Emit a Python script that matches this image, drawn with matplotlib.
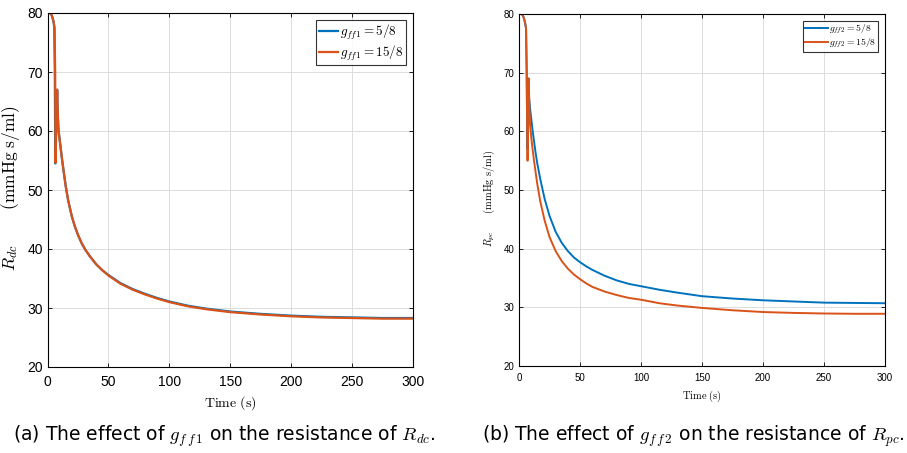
import matplotlib
matplotlib.use("Agg")
import matplotlib.pyplot as plt

plt.rcParams['mathtext.fontset'] = 'cm'
plt.rcParams['font.family'] = ['Liberation Sans', 'DejaVu Sans']

BLUE = '#0072BD'
ORANGE = '#D95319'

# ---- data ----
t_a_blue = [0, 2, 3, 4, 5, 5.6, 6.0, 6.4, 6.4, 7.9, 8.5, 9, 10, 11, 12, 13.5, 15, 17, 20, 22.5, 25, 28, 31, 35, 40, 45, 50, 55, 60, 70, 80, 90, 100, 115, 130, 150, 175, 200, 225, 250, 275, 300]
v_a_blue = [80, 80, 79.8, 79.3, 78.5, 77.5, 70, 54.5, 54.5, 67, 62.5, 60.2, 58.5, 56.8, 55.1, 52.8, 50.6, 48.2, 45.5, 43.8, 42.4, 41.0, 39.9, 38.7, 37.4, 36.4, 35.6, 34.9, 34.2, 33.2, 32.4, 31.7, 31.1, 30.4, 29.9, 29.4, 29.0, 28.7, 28.5, 28.4, 28.3, 28.3]
t_a_orange = [0, 2, 3, 4, 5, 5.8, 6.3, 6.6, 6.6, 7.9, 8.5, 9, 10, 11, 12, 13.5, 15, 17, 20, 22.5, 25, 28, 31, 35, 40, 45, 50, 55, 60, 70, 80, 90, 100, 115, 130, 150, 175, 200, 225, 250, 275, 300]
v_a_orange = [80, 80, 79.8, 79.3, 78.5, 77.5, 70, 54.6, 54.6, 67, 62.5, 60.2, 58.5, 56.8, 55.1, 52.8, 50.6, 48.2, 45.5, 43.8, 42.4, 41.0, 39.9, 38.7, 37.4, 36.4, 35.5, 34.8, 34.1, 33.1, 32.3, 31.6, 31.0, 30.3, 29.8, 29.3, 28.9, 28.6, 28.4, 28.3, 28.2, 28.2]

t_b_blue = [0, 2, 3, 4, 5, 5.8, 6.3, 6.8, 7.0, 7.6, 8.2, 9, 10, 11, 12, 13.5, 15, 17.5, 21, 25, 30, 35, 40, 45, 50, 55, 60, 70, 80, 90, 100, 115, 130, 150, 175, 200, 225, 250, 275, 300]
v_b_blue = [80, 80, 79.8, 79.3, 78.5, 77.5, 70, 57, 57, 69, 66, 64, 62.2, 60.4, 58.8, 56.5, 54.5, 51.8, 48.5, 45.6, 42.9, 41.0, 39.6, 38.5, 37.7, 37.0, 36.4, 35.4, 34.6, 34.0, 33.6, 33.0, 32.5, 31.9, 31.5, 31.2, 31.0, 30.8, 30.75, 30.7]
t_b_orange = [0, 2, 3, 4, 5, 5.8, 6.3, 6.9, 7.1, 8.0, 8.5, 9, 10, 11, 12, 13.5, 15, 17.5, 21, 25, 30, 35, 40, 45, 50, 55, 60, 70, 80, 90, 100, 115, 130, 150, 175, 200, 225, 250, 275, 300]
v_b_orange = [80, 80, 79.8, 79.3, 78.5, 77.5, 70, 55, 55, 69, 64, 61.5, 59, 57.2, 55.5, 53.2, 51.0, 48.0, 44.8, 42.0, 39.6, 37.9, 36.6, 35.6, 34.8, 34.1, 33.5, 32.7, 32.1, 31.6, 31.3, 30.7, 30.3, 29.9, 29.5, 29.2, 29.05, 28.95, 28.9, 28.9]

xticks = [0, 50, 100, 150, 200, 250, 300]
yticks = [20, 30, 40, 50, 60, 70, 80]

fig = plt.figure(figsize=(9.07, 4.53), dpi=100)
W, H = 907, 453

def make_ax(x0, x1, ytop, ybot):
    return fig.add_axes([x0 / W, 1 - ybot / H, (x1 - x0) / W, (ybot - ytop) / H])

ax1 = make_ax(47.5, 413, 13, 367)
ax2 = make_ax(519, 885, 14, 366)

def style(ax, fs, pad):
    ax.set_xlim(0, 300)
    ax.set_ylim(20, 80)
    ax.set_xticks(xticks)
    ax.set_yticks(yticks)
    ax.grid(True, color='#dcdcdc', linewidth=0.7)
    ax.set_axisbelow(True)
    ax.tick_params(direction='in', labelsize=fs, length=3, width=0.6, top=True, right=True)
    ax.tick_params(axis='x', pad=pad)
    for s in ax.spines.values():
        s.set_linewidth(0.8)

ax1.plot(t_a_blue, v_a_blue, color=BLUE, lw=1.6, label=r'$g_{ff1} = 5/8$')
ax1.plot(t_a_orange, v_a_orange, color=ORANGE, lw=1.6, label=r'$g_{ff1} = 15/8$')
style(ax1, 10, 5.5)
ax1.set_xlabel(r'$\mathrm{Time\ (s)}$', fontsize=10, labelpad=4)
ax1.set_ylabel(r'$R_{dc}\qquad\ (\mathrm{mmHg\ s/ml})$', fontsize=12.5)
ax1.yaxis.set_label_coords(-0.07, 0.505)
leg1 = ax1.legend(loc='upper right', fontsize=9.5, frameon=True, fancybox=False, edgecolor='black',
                  handlelength=1.5, handletextpad=0.1, borderpad=0.2, borderaxespad=0.55, labelspacing=0.1)
leg1.get_frame().set_linewidth(0.8)

ax2.plot(t_b_blue, v_b_blue, color=BLUE, lw=1.4, label=r'$g_{ff2} = 5/8$')
ax2.plot(t_b_orange, v_b_orange, color=ORANGE, lw=1.4, label=r'$g_{ff2} = 15/8$')
style(ax2, 7, 5)
ax2.set_xlabel(r'$\mathrm{Time\ (s)}$', fontsize=7.5, labelpad=4)
ax2.set_ylabel(r'$R_{pc}\qquad(\mathrm{mmHg\ s/ml})$', fontsize=7.5)
ax2.yaxis.set_label_coords(-0.06, 0.476)
leg2 = ax2.legend(loc='upper right', fontsize=7, frameon=True, fancybox=False, edgecolor='black',
                  handlelength=2.4, handletextpad=0.1, borderpad=0.2, borderaxespad=0.7, labelspacing=0.1)
leg2.get_frame().set_linewidth(0.8)

cap_font = ['DejaVu Sans']
fig.text(224 / W, 1 - 436 / H, r'(a) The effect of $g_{f\,f\,1}$ on the resistance of $R_{dc}$.',
         ha='center', va='center', fontsize=13.5, family=cap_font)
fig.text(693 / W, 1 - 436 / H, r'(b) The effect of $g_{f\,f\,2}$ on the resistance of $R_{pc}$.',
         ha='center', va='center', fontsize=13.5, family=cap_font)

fig.savefig('out.png', dpi=100)
